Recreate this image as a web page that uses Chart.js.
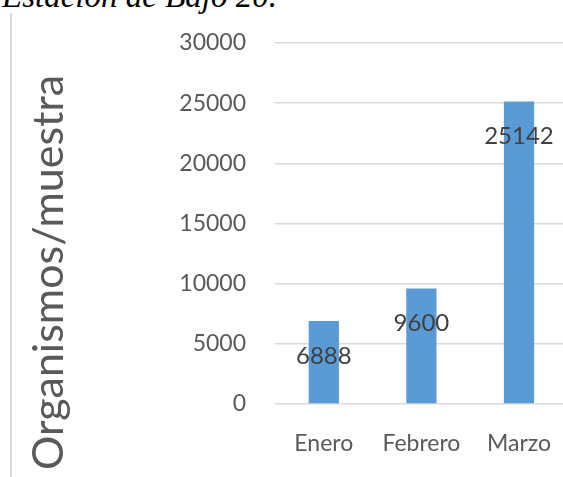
<!DOCTYPE html>
<html>
<head>
<meta charset="utf-8">
<script src="https://cdn.jsdelivr.net/npm/chart.js@4"></script>
<style>
  html, body { margin: 0; padding: 0; background: #fff; overflow: hidden; }
  #wrap { position: relative; width: 569px; height: 477px; }
  #frame { position: absolute; left: 10px; top: 13px; bottom: 0; border-left: 2px solid #d9d9d9; }
  #caption { position: absolute; left: 2px; top: -20px; font: italic 33px "Liberation Serif", serif; line-height: 33px; color: #000; white-space: nowrap; }
  #box { position: absolute; left: 0; top: 0; width: 569px; height: 477px; }
</style>
</head>
<body>
<div id="wrap">
  <div id="caption">Estación de Bajo 20.</div>
  <div id="frame"></div>
  <div id="box"><canvas id="chart"></canvas></div>
</div>
<script>
const months = ["Enero", "Febrero", "Marzo"];
const counts = [6888, 9600, 25142];
const yTicks = [0, 5000, 10000, 15000, 20000, 25000, 30000];
const yTitle = "Organismos/muestra";

document.addEventListener("DOMContentLoaded", () => {
    // values drawn a little below the top of each bar
    const barValues = {
        id: "barValues",
        afterDatasetsDraw(chart) {
            const ctx = chart.ctx;
            ctx.save();
            ctx.font = '24px Lato';
            ctx.fillStyle = "#404040";
            ctx.textAlign = "center";
            ctx.textBaseline = "middle";
            chart.getDatasetMeta(0).data.forEach((bar, i) => {
                ctx.fillText(String(counts[i]), bar.x, bar.y + 35);
            });
            ctx.restore();
        }
    };

    // rotated y axis title, placed like the original
    const sideTitle = {
        id: "sideTitle",
        afterDraw(chart) {
            const ctx = chart.ctx;
            ctx.save();
            ctx.font = '43px Lato';
            ctx.fillStyle = "#595959";
            ctx.translate(63, 470);
            ctx.rotate(-Math.PI / 2);
            ctx.textAlign = "left";
            ctx.textBaseline = "alphabetic";
            ctx.fillText(yTitle, 0, 0);
            ctx.restore();
        }
    };

    new Chart(document.getElementById("chart"), {
        type: "bar",
        data: {
            labels: months,
            datasets: [{
                data: counts,
                backgroundColor: "#5b9bd5",
                categoryPercentage: 1,
                barPercentage: 0.31
            }]
        },
        options: {
            responsive: true,
            maintainAspectRatio: false,
            animation: false,
            layout: { padding: { top: 43, right: 0, bottom: 0, left: 0 } },
            plugins: {
                legend: { display: false },
                tooltip: { enabled: false }
            },
            scales: {
                x: {
                    grid: { display: false },
                    border: { display: false },
                    ticks: {
                        color: "#595959",
                        font: { family: "Lato", size: 23 },
                        padding: 18
                    },
                    afterFit(scale) { scale.height = 73; }
                },
                y: {
                    min: yTicks[0],
                    max: yTicks[yTicks.length - 1],
                    grid: { color: "#d9d9d9", lineWidth: 1.5, drawTicks: false },
                    border: { display: false },
                    ticks: {
                        stepSize: yTicks[1] - yTicks[0],
                        color: "#595959",
                        font: { family: "Lato", size: 23 },
                        padding: 29,
                        callback: (v) => String(v)
                    },
                    afterFit(scale) { scale.width = 275; }
                }
            }
        },
        plugins: [barValues, sideTitle]
    });
});
</script>
</body>
</html>
